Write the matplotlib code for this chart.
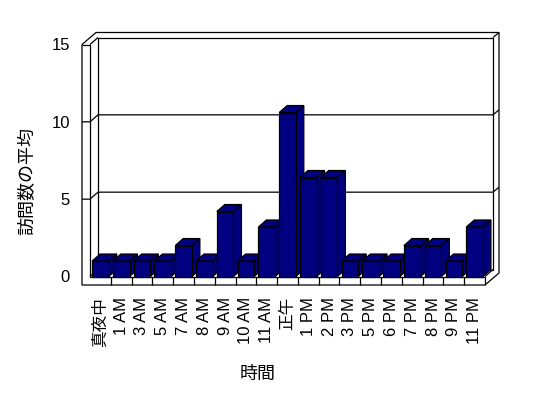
import matplotlib
matplotlib.use('Agg')
import matplotlib.pyplot as plt
from matplotlib.patches import Polygon

categories = ['真夜中', '1 AM', '3 AM', '5 AM', '7 AM', '8 AM', '9 AM', '10 AM', '11 AM',
              '正午', '1 PM', '2 PM', '3 PM', '5 PM', '6 PM', '7 PM', '8 PM', '9 PM', '11 PM']
values = [1, 1, 1, 1, 2, 1, 4.2, 1, 3.2, 10.6, 6.4, 6.4, 1, 1, 1, 2, 2, 1, 3.2]
yticks = [0, 5, 10, 15]
y_label = '訪問数の平均'
x_label = '時間'

plt.rcParams['font.family'] = ['Liberation Sans', 'Noto Sans CJK JP']

W, H = 548, 398
fig = plt.figure(figsize=(W / 100, H / 100), dpi=100)
fig.patch.set_facecolor('white')

# front plane in pixels
L, R, B, T = 90, 485, 276.5, 44.5
ax = fig.add_axes([L / W, 1 - B / H, (R - L) / W, (B - T) / H])
n = len(categories)
ymax = yticks[-1]
ax.set_xlim(-0.5, n - 0.5)
ax.set_ylim(0, ymax)
ux = (R - L) / n
uy = (B - T) / ymax


def px(d):
    return d / ux


def py(d):
    return d / uy


ddx, ddy = px(8), py(7)      # depth to back wall face
tdx, tdy = px(14), py(12)    # depth to back wall outer
wall = px(8)
floor = py(8.5)

lk = dict(color='black', lw=0.9, clip_on=False, solid_capstyle='butt', zorder=2)
x0, x1 = -0.5, n - 0.5

# outer outline
ax.plot([x0 - wall, x0 - wall + tdx, x1 + tdx, x1 + tdx, x1, x0 - wall, x0 - wall],
        [ymax, ymax + tdy, ymax + tdy, -floor + tdy, -floor, -floor, ymax], **lk)
# left wall inner / floor front top edge
ax.plot([x0 - wall, x0, x0, x1, x1], [ymax, ymax, 0, 0, -floor], **lk)
# left wall inner slants
ax.plot([x0, x0 + ddx], [ymax, ymax + ddy], **lk)
ax.plot([x0, x0 + ddx], [0, ddy], **lk)
ax.plot([x1, x1 + ddx], [0, ddy], **lk)
# back wall face
ax.plot([x0 + ddx, x1 + ddx, x1 + ddx, x0 + ddx, x0 + ddx],
        [ymax + ddy, ymax + ddy, ddy, ddy, ymax + ddy], **lk)
ax.plot([x1 + ddx, x1 + tdx], [ymax + ddy, ymax + tdy], **lk)
# gridlines
for v in yticks[1:-1]:
    ax.plot([x0 - wall, x0, x0 + ddx, x1 + ddx, x1 + tdx],
            [v, v, v + ddy, v + ddy, v + tdy], **lk)
# floor dividers
for i in range(1, n):
    ax.plot([i - 0.5, i - 0.5], [0, -floor], **lk)

# bars
bw = 0.8
navy = '#000080'
for i, v in enumerate(values):
    z = 3 + i * 0.1
    xl, xr = i - bw / 2, i + bw / 2
    side = Polygon([(xr, 0), (xr + ddx, ddy), (xr + ddx, v + ddy), (xr, v)],
                   closed=True, facecolor=navy, edgecolor='black', lw=0.9, zorder=z, clip_on=False)
    top = Polygon([(xl, v), (xr, v), (xr + ddx, v + ddy), (xl + ddx, v + ddy)],
                  closed=True, facecolor=navy, edgecolor='black', lw=0.9, zorder=z, clip_on=False)
    ax.add_patch(side)
    ax.add_patch(top)
    ax.bar(i, v, width=bw, color=navy, edgecolor='black', lw=0.9, zorder=z + 0.05, clip_on=False)

for s in ax.spines.values():
    s.set_visible(False)
ax.patch.set_visible(False)
ax.set_yticks(yticks)
ax.set_yticklabels([str(t) for t in yticks], fontsize=12)
ax.tick_params(axis='y', length=0, pad=14.4)
ax.set_xticks(range(n))
ax.set_xticklabels(categories, rotation=90, va='top', ha='center', fontsize=12)
ax.tick_params(axis='x', length=0, pad=14.8)

fig.text(28 / W, 1 - 181 / H, y_label, rotation=90, ha='center', va='center', fontsize=13)
fig.text(258 / W, 1 - 374 / H, x_label, ha='center', va='center', fontsize=13)

fig.savefig('out.png', dpi=100, facecolor='white')
